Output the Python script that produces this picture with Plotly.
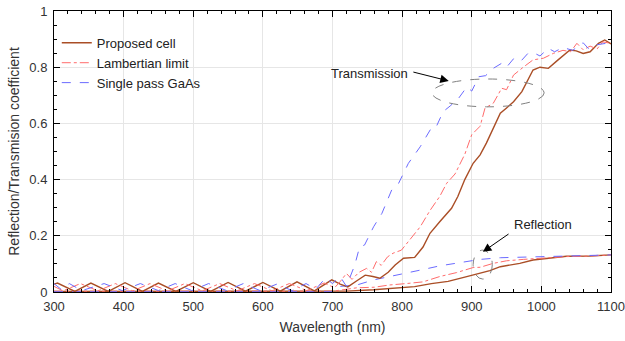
import plotly.graph_objects as go

# Transmission spectra
wl_cell_t = [300, 305, 330, 353, 378, 402, 427, 450, 475, 500, 525, 550, 575, 600, 625, 649, 674, 699,
             711, 722, 735, 747, 758, 768, 780, 790, 802, 818, 830, 840, 854, 871, 880, 890, 902, 912,
             921, 931, 941, 950, 960, 972, 980, 988, 998, 1010, 1024, 1041, 1050, 1060, 1070, 1082, 1091, 1100]
t_cell = [0.028, 0.032, 0.002, 0.032, 0.002, 0.033, 0.002, 0.032, 0.002, 0.033, 0.002, 0.034, 0.003, 0.034,
          0.003, 0.036, 0.004, 0.043, 0.028, 0.018, 0.040, 0.060, 0.055, 0.049, 0.070, 0.096, 0.120, 0.123,
          0.160, 0.209, 0.250, 0.298, 0.340, 0.400, 0.458, 0.488, 0.530, 0.585, 0.636, 0.655, 0.677, 0.713,
          0.750, 0.790, 0.800, 0.796, 0.826, 0.861, 0.858, 0.849, 0.855, 0.885, 0.897, 0.883]

wl_lamb_t = [300, 313, 338, 363, 388, 413, 438, 463, 488, 513, 538, 563, 588, 613, 638, 663, 688, 703,
             711, 720, 728, 738, 749, 756, 763, 770, 779, 787, 799, 814, 826, 840, 854, 864, 876, 890, 900,
             912, 919, 931, 943, 950, 960, 974, 988, 1003, 1017, 1031, 1042, 1051, 1060, 1070, 1080, 1088, 1100]
t_lamb = [0.020, 0.004, 0.030, 0.004, 0.030, 0.004, 0.030, 0.004, 0.030, 0.004, 0.030, 0.004, 0.030, 0.004,
          0.030, 0.005, 0.032, 0.015, 0.037, 0.066, 0.045, 0.070, 0.084, 0.070, 0.108, 0.095, 0.125, 0.138,
          0.149, 0.197, 0.232, 0.290, 0.340, 0.387, 0.420, 0.490, 0.560, 0.590, 0.654, 0.672, 0.725, 0.720,
          0.772, 0.800, 0.826, 0.832, 0.849, 0.860, 0.855, 0.885, 0.862, 0.875, 0.865, 0.890, 0.885]

wl_gaas_t = [300, 310, 322, 340, 372, 398, 424, 450, 474, 498, 522, 548, 572, 596, 620, 642, 662, 676, 690,
             700, 711, 720, 732, 739, 746, 759, 771, 785, 795, 809, 826, 843, 849, 859, 869, 881, 893, 900,
             910, 920, 931, 943, 950, 960, 970, 981, 990, 998, 1010, 1019, 1031, 1045, 1060, 1068, 1080, 1093, 1100]
t_gaas = [0.030, 0.010, 0.030, 0.005, 0.030, 0.005, 0.030, 0.005, 0.030, 0.005, 0.030, 0.005, 0.030, 0.005,
          0.028, 0.005, 0.030, 0.010, 0.050, 0.030, 0.055, 0.020, 0.096, 0.161, 0.167, 0.232, 0.280, 0.363,
          0.387, 0.458, 0.517, 0.588, 0.588, 0.642, 0.662, 0.689, 0.730, 0.715, 0.766, 0.770, 0.796, 0.814,
          0.800, 0.830, 0.820, 0.850, 0.850, 0.840, 0.867, 0.855, 0.870, 0.860, 0.887, 0.865, 0.880, 0.885, 0.875]

# Reflection spectra
wl_cell_r = [300, 700, 720, 759, 782, 818, 842, 866, 890, 912, 926, 941, 969, 988, 1007, 1036, 1070, 1100]
r_cell = [0.002, 0.002, 0.003, 0.008, 0.013, 0.019, 0.030, 0.038, 0.053, 0.066, 0.076, 0.090, 0.102, 0.114,
          0.119, 0.127, 0.128, 0.132]

wl_lamb_r = [300, 700, 715, 735, 760, 782, 806, 830, 854, 878, 902, 912, 931, 950, 974, 998, 1036, 1070, 1100]
r_lamb = [0.003, 0.003, 0.008, 0.015, 0.017, 0.025, 0.030, 0.036, 0.055, 0.069, 0.087, 0.088, 0.102, 0.111,
          0.116, 0.120, 0.126, 0.128, 0.132]

wl_gaas_r = [300, 700, 711, 735, 759, 783, 807, 830, 854, 878, 902, 912, 941, 969, 998, 1036, 1070, 1100]
r_gaas = [0.001, 0.001, 0.020, 0.025, 0.043, 0.055, 0.066, 0.080, 0.093, 0.102, 0.111, 0.116, 0.122, 0.124,
          0.126, 0.128, 0.130, 0.132]

x_ticks = [300, 400, 500, 600, 700, 800, 900, 1000, 1100]
y_ticks = [0, 0.2, 0.4, 0.6, 0.8, 1]

BROWN = "#AA4E26"
RED = "#FF6B6B"
BLUE = "#6B6BFF"
FONT = "Liberation Sans, Arial, sans-serif"

fig = go.Figure()

series = [
    ("Proposed cell", wl_cell_t, t_cell, wl_cell_r, r_cell, BROWN, "solid", 1.4),
    ("Lambertian limit", wl_lamb_t, t_lamb, wl_lamb_r, r_lamb, RED, "dashdot", 1.0),
    ("Single pass GaAs", wl_gaas_t, t_gaas, wl_gaas_r, r_gaas, BLUE, "dash", 1.0),
]

# reflection curves first so the transmission lines sit on top
for name, wt, t, wr, r, col, dash, w in series:
    fig.add_trace(go.Scatter(x=wr, y=r, mode="lines", name=name, showlegend=False,
                             line=dict(color=col, dash=dash, width=w)))
for name, wt, t, wr, r, col, dash, w in series:
    fig.add_trace(go.Scatter(x=wt, y=t, mode="lines", name=name,
                             line=dict(color=col, dash=dash, width=w)))

# ellipses grouping the transmission and reflection curves
fig.add_shape(type="circle", xref="x", yref="y", x0=843, x1=1004, y0=0.659, y1=0.758,
              line=dict(color="#808080", width=1, dash="dash"))
fig.add_shape(type="circle", xref="x", yref="y", x0=902, x1=929.5, y0=0.046, y1=0.149,
              line=dict(color="#808080", width=1, dash="dash"))

# labels with arrows
fig.add_annotation(x=812, y=0.779, text="Transmission", showarrow=False, xanchor="right",
                   font=dict(family=FONT, size=13, color="#222"))
fig.add_annotation(x=867, y=0.751, ax=814, ay=0.784, axref="x", ayref="y", xref="x", yref="y",
                   text="", showarrow=True, arrowhead=2, arrowsize=1.7, arrowwidth=1, arrowcolor="black")
fig.add_annotation(x=1003, y=0.242, text="Reflection", showarrow=False,
                   font=dict(family=FONT, size=13, color="#222"))
fig.add_annotation(x=916, y=0.143, ax=955, ay=0.21, axref="x", ayref="y", xref="x", yref="y",
                   text="", showarrow=True, arrowhead=2, arrowsize=1.7, arrowwidth=1, arrowcolor="black")

axis_common = dict(showline=True, linecolor="black", linewidth=1, mirror="allticks",
                   ticks="inside", ticklen=6, tickcolor="black", showgrid=True,
                   gridcolor="#E6E6E6", gridwidth=1, zeroline=False, automargin=False,
                   tickfont=dict(family=FONT, size=13, color="#333"))

fig.update_xaxes(range=[300, 1100], tickvals=x_ticks, ticklabelstandoff=2,
                 minor=dict(dtick=20, ticks="inside", ticklen=3, tickcolor="black", showgrid=False),
                 title=dict(text="Wavelength (nm)", font=dict(family=FONT, size=14, color="#333"), standoff=9),
                 **axis_common)
fig.update_yaxes(range=[0, 1], tickvals=y_ticks, ticklabelstandoff=3,
                 minor=dict(dtick=0.05, ticks="inside", ticklen=3, tickcolor="black", showgrid=False),
                 title=dict(text="Reflection/Transmision coefficient",
                            font=dict(family=FONT, size=14, color="#333"), standoff=6),
                 **axis_common)

fig.update_layout(
    width=625, height=341,
    margin=dict(l=54, r=14, t=11, b=49),
    plot_bgcolor="white", paper_bgcolor="white",
    legend=dict(x=0.005, y=0.94, xanchor="left", yanchor="top", bgcolor="rgba(0,0,0,0)",
                font=dict(family=FONT, size=13, color="#222"), tracegroupgap=0, itemwidth=30),
)

fig.write_html("out.html")
